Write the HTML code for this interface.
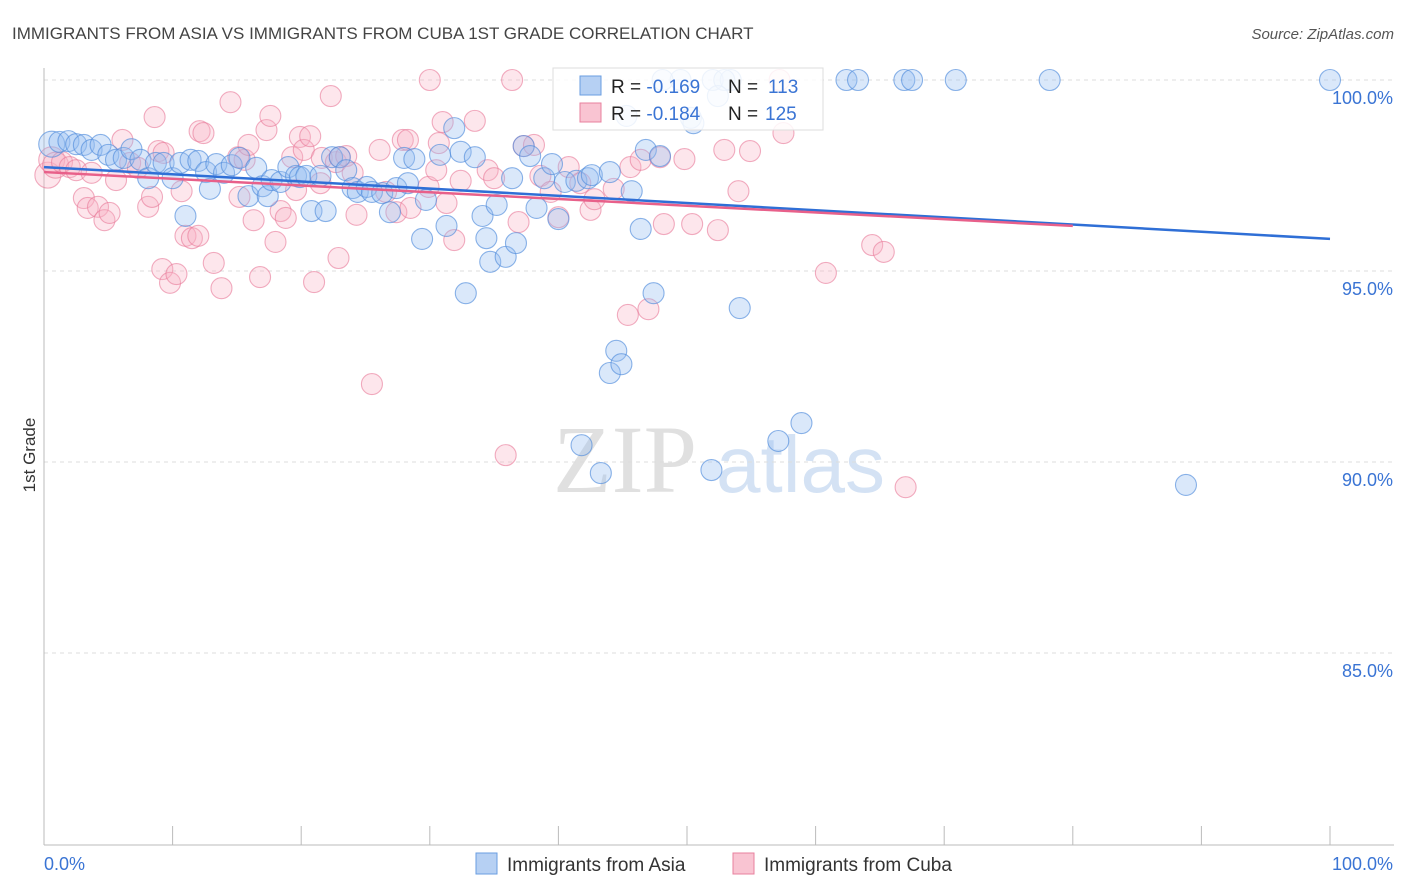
<!DOCTYPE html>
<html><head><meta charset="utf-8"><style>
body{margin:0;background:#fff;font-family:"Liberation Sans",sans-serif;}
svg{display:block}
</style></head><body>
<svg id="chart" width="1406" height="892" viewBox="0 0 1406 892">
<text x="12" y="39" font-size="17" fill="#444">IMMIGRANTS FROM ASIA VS IMMIGRANTS FROM CUBA 1ST GRADE CORRELATION CHART</text>
<text x="1394" y="39" font-size="15" fill="#555" font-style="italic" text-anchor="end">Source: ZipAtlas.com</text>
<g>
<text x="553" y="492" font-size="96" font-family="Liberation Serif,serif" fill="#d4d4d4" opacity="0.7">ZIP</text>
<text x="716" y="492" font-size="80" fill="#b8d0ee" opacity="0.6">atlas</text>
</g>
<g id="grid"></g>
<g id="axes"></g>
<g id="pts"></g>
<g id="trends"></g>
<text x="35" y="455" font-size="17" fill="#333" transform="rotate(-90 35 455)" text-anchor="middle">1st Grade</text>
<g>
<rect x="553" y="68" width="270" height="62" fill="#fff" fill-opacity="0.85" stroke="#ddd"/>
<rect x="580" y="76" width="21" height="19" fill="#b6d0f3" stroke="#6a9ee0"/>
<rect x="580" y="103" width="21" height="19" fill="#f9c4d2" stroke="#e8809e"/>
<text x="611" y="93" font-size="19" fill="#222">R = <tspan fill="#3a74d4">-0.169</tspan><tspan x="728">N = </tspan><tspan x="768" fill="#3a74d4">113</tspan></text>
<text x="611" y="120" font-size="19" fill="#222">R = <tspan fill="#3a74d4">-0.184</tspan><tspan x="728">N = </tspan><tspan x="765" fill="#3a74d4">125</tspan></text>
</g>
<g>
<rect x="476" y="853" width="21" height="21" fill="#b6d0f3" stroke="#6a9ee0"/>
<text x="507" y="871" font-size="19" fill="#333">Immigrants from Asia</text>
<rect x="733" y="853" width="21" height="21" fill="#f9c4d2" stroke="#e8809e"/>
<text x="764" y="871" font-size="19" fill="#333">Immigrants from Cuba</text>
</g>
</svg>
<script>
const yTicks=[100,95,90,85];
const yTickLabels=["100.0%","95.0%","90.0%","85.0%"];
const xTickCount=10;
const asiaX=[0.6,1.2,1.9,2.5,3.1,3.7,4.4,5.0,5.6,6.2,6.8,7.5,8.1,8.7,9.3,10.0,10.6,11.0,11.4,12.0,12.6,12.9,13.4,14.0,14.6,15.2,15.9,16.5,17.0,17.4,17.7,18.4,19.0,19.6,19.9,20.4,20.8,21.5,21.9,22.4,23.0,23.5,24.0,24.4,25.1,25.5,26.3,26.9,27.4,28.0,28.3,28.8,29.4,29.7,30.8,31.3,31.9,32.4,32.8,33.5,34.1,34.4,34.7,35.2,35.9,36.4,36.7,37.3,37.8,38.3,38.9,39.5,40.0,40.5,41.4,42.3,42.6,44.0,45.7,46.4,46.8,47.4,47.9,49.5,50.3,52.0,53.4,54.1,41.8,43.3,44.0,44.5,44.9,51.9,57.1,58.9,62.4,63.3,66.9,67.5,70.9,78.2,88.8,100,48.1,52.9,52.4,45.3,50.5];
const asiaY=[98.32,98.38,98.40,98.32,98.30,98.17,98.30,98.04,97.91,97.96,98.19,97.91,97.43,97.83,97.83,97.43,97.83,96.44,97.91,97.88,97.59,97.15,97.80,97.57,97.77,97.96,96.96,97.70,97.22,96.96,97.38,97.33,97.72,97.49,97.46,97.49,96.57,97.49,96.57,97.98,97.98,97.64,97.17,97.07,97.20,97.07,97.04,96.54,97.17,97.96,97.30,97.93,95.84,96.86,98.04,96.18,98.74,98.12,94.42,97.98,96.44,95.86,95.24,96.73,95.37,97.43,95.73,98.27,98.01,96.65,97.43,97.80,96.36,97.33,97.36,97.43,97.51,97.59,97.09,96.10,98.17,94.42,98.01,100,99.01,100,100,94.03,90.44,89.71,92.33,92.91,92.56,89.79,90.55,91.02,100,100,100,100,100,100,89.40,100,100,100,99.58,99.06,98.87];
const cubaX=[0.3,0.6,0.9,1.4,2.0,2.5,3.1,3.4,3.7,4.2,4.7,5.1,5.6,6.1,6.7,7.3,8.1,8.4,8.6,8.9,9.3,9.2,9.8,10.3,10.7,11.0,11.5,12.0,12.1,12.4,13.2,13.8,14.5,15.1,15.2,15.6,15.9,16.3,16.8,17.3,17.6,18.0,18.4,18.8,19.3,19.6,19.9,20.2,20.7,21.0,21.5,21.6,22.3,22.7,23.0,23.5,24.0,22.9,24.3,25.5,26.1,26.6,27.4,27.9,28.3,28.5,29.9,30.0,30.5,30.7,31.0,31.3,31.9,32.4,33.5,34.5,35.0,35.9,36.4,36.9,37.3,38.1,38.6,39.4,40.0,40.8,41.7,42.5,42.8,44.3,45.4,45.6,46.4,47.0,48.2,47.9,49.8,50.4,52.4,52.9,54.0,54.9,57.5,57.2,60.8,64.4,65.3,67.0];
const cubaY=[97.51,97.91,97.77,97.85,97.72,97.64,96.91,96.65,97.57,96.68,96.33,96.52,97.38,98.43,97.83,97.70,96.68,96.94,99.03,98.14,98.09,95.05,94.69,94.92,97.09,95.92,95.86,95.92,98.66,98.61,95.21,94.55,99.42,97.98,96.94,97.91,98.30,96.33,94.84,98.69,99.06,95.76,96.57,96.39,97.98,97.12,98.51,98.17,98.53,94.71,97.30,97.96,99.58,97.85,97.98,98.01,97.57,95.34,96.47,92.04,98.17,97.07,96.54,98.43,98.43,96.65,97.20,100,97.64,98.35,98.90,96.78,95.81,97.36,98.93,97.64,97.43,90.18,100,96.28,98.27,98.30,97.49,97.07,96.41,97.72,97.30,96.60,96.88,97.15,93.85,97.72,97.91,94.00,96.23,97.98,97.93,96.23,96.07,98.17,97.09,98.14,98.61,100,94.95,95.68,95.50,89.34];
const asiaTrendX=[0,100], asiaTrendY=[97.72,95.84];
const cubaTrendX=[0,80], cubaTrendY=[97.59,96.18];

const NS="http://www.w3.org/2000/svg";
const X0=44,X1=1330,YTOP=80,PER=38.2;
const sx=v=>X0+(X1-X0)*v/100;
const sy=v=>YTOP+(100-v)*PER;
function mk(tag,attrs,parent){const e=document.createElementNS(NS,tag);for(const k in attrs)e.setAttribute(k,attrs[k]);parent.appendChild(e);return e;}
const grid=document.getElementById('grid'),axes=document.getElementById('axes');
yTicks.forEach((t,i)=>{
 const l=mk('line',{x1:X0,x2:1394,y1:sy(t),y2:sy(t),stroke:'#ddd','stroke-dasharray':'4,4'},grid);
 
 
 const tx=mk('text',{x:1393,y:sy(t)+24,'font-size':18,fill:'#3a74d4','text-anchor':'end'},axes);
 tx.textContent=yTickLabels[i];
 
 
});
const ya=mk('line',{x1:X0,x2:X0,y1:68,y2:845,stroke:'#bbb'},axes);


const xa=mk('line',{x1:X0,x2:1394,y1:845,y2:845,stroke:'#bbb'},axes);


for(let i=0;i<=xTickCount;i++){
 const t=mk('line',{x1:sx(i*100/xTickCount),x2:sx(i*100/xTickCount),y1:826,y2:845,stroke:'#bbb'},axes);
 
 
}
const xl0=mk('text',{x:44,y:870,'font-size':18,fill:'#3a74d4'},axes);xl0.textContent='0.0%';


const xl1=mk('text',{x:1393,y:870,'font-size':18,fill:'#3a74d4','text-anchor':'end'},axes);xl1.textContent='100.0%';


const pts=document.getElementById('pts');
function series(xs,ys,fill,stroke,name){
 xs.forEach((x,i)=>{
  const r=x<1?13:10.5;
  const c=mk('circle',{cx:sx(x),cy:sy(ys[i]),r:r,fill:fill,stroke:stroke,'stroke-width':1.1},pts);
  
  
 });
}
series(cubaX,cubaY,'rgba(248,176,196,0.32)','rgba(232,120,152,0.6)','point-cuba');
series(asiaX,asiaY,'rgba(150,190,240,0.35)','rgba(80,140,220,0.65)','point-asia');
const tr=document.getElementById('trends');
const lb=mk('line',{x1:sx(asiaTrendX[0]),y1:sy(asiaTrendY[0]),x2:sx(asiaTrendX[1]),y2:sy(asiaTrendY[1]),stroke:'#2f6fd6','stroke-width':2.5},tr);


const lp=mk('line',{x1:sx(cubaTrendX[0]),y1:sy(cubaTrendY[0]),x2:sx(cubaTrendX[1]),y2:sy(cubaTrendY[1]),stroke:'#e8608a','stroke-width':2.5},tr);


</script>
</body></html>
